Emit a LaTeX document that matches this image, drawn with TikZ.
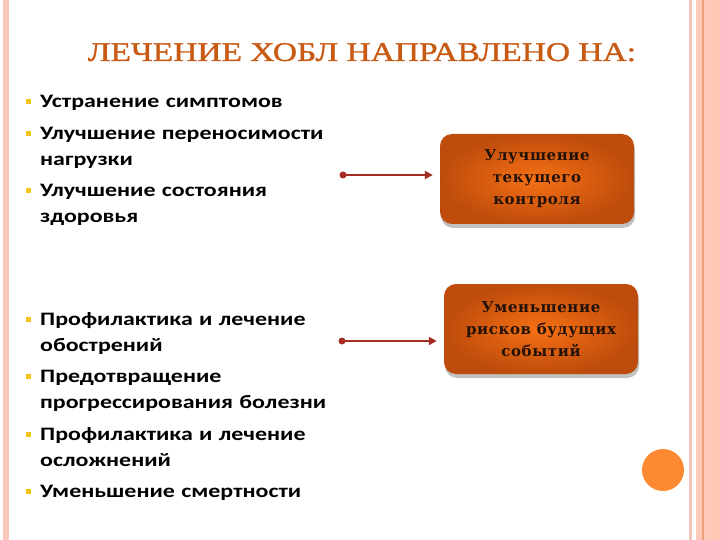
\documentclass[tikz,border=0pt]{standalone}
\usepackage{fontspec}
\setmainfont{Liberation Serif}
\newfontfamily\titlefont[FakeStretch=1.24,FakeBold=1.3]{Liberation Serif}
\newfontfamily\listfont[FakeStretch=1.26]{Carlito}
\newfontfamily\boxfont[LetterSpace=4]{DejaVu Serif}
\usetikzlibrary{arrows.meta,shadows}
\definecolor{titlecol}{RGB}{200,90,20}
\definecolor{bulcol}{RGB}{245,195,20}
\definecolor{arrcol}{RGB}{165,45,35}
\definecolor{boxin}{RGB}{246,112,20}
\definecolor{boxout}{RGB}{190,76,12}
\definecolor{boxtext}{RGB}{35,18,8}
\definecolor{dotcol}{RGB}{253,138,50}
\definecolor{barA}{RGB}{248,200,184}
\definecolor{barB}{RGB}{240,196,184}
\definecolor{barC}{RGB}{253,202,186}
\definecolor{barD}{RGB}{235,160,120}
\definecolor{barE}{RGB}{255,200,180}
\newcommand{\bitem}[1]{\hangindent=14pt\hangafter=1\noindent
  \makebox[14pt][l]{\textcolor{bulcol}{\rule[3.5pt]{5pt}{5pt}}}#1\par}
\begin{document}
\begin{tikzpicture}[x=1pt,y=-1pt,
  goal/.style={rounded corners=12pt,inner color=boxin,outer color=boxout,
    minimum width=194pt,minimum height=90pt,align=center,text=boxtext,
    font=\boxfont\bfseries\fontsize{15}{22}\selectfont,
    drop shadow={shadow xshift=1pt,shadow yshift=-4pt,opacity=.35,fill=black!70}},
  list/.style={anchor=base west,inner sep=0pt,text width=330pt,
    font=\listfont\bfseries\fontsize{19}{26}\selectfont},
  link/.style={arrcol,line width=2.4pt,-{Triangle[length=8pt,width=8pt]},shorten >=7pt}]
\useasboundingbox (0,0) rectangle (720,540);
\fill[barA] (3,0) rectangle (9,540);
\fill[barB] (689,0) rectangle (692,540);
\fill[barC] (696,0) rectangle (702,540);
\fill[barD] (702,0) rectangle (703.5,540);
\fill[barC] (703.5,0) rectangle (709,540);
\fill[barE] (709,0) rectangle (720,540);
\node[anchor=base,inner sep=0pt,text=titlecol,font=\titlefont\fontsize{27}{30}\selectfont] (title) at (362,61)
  {ЛЕЧЕНИЕ ХОБЛ НАПРАВЛЕНО НА:};
\node[list] (now) at (26,108) {\parskip=5.5pt
  \bitem{Устранение симптомов}
  \bitem{Улучшение переносимости\newline нагрузки}
  \bitem{Улучшение состояния\newline здоровья}};
\node[list] (future) at (26,325) {\parskip=5.5pt
  \bitem{Профилактика и лечение\newline обострений}
  \bitem{Предотвращение\newline прогрессирования болезни}
  \bitem{Профилактика и лечение\newline осложнений}
  \bitem{Уменьшение смертности}};
\node[goal] (control) at (537,179) {Улучшение\\текущего\\контроля};
\node[goal] (risk) at (541,329) {Уменьшение\\рисков будущих\\событий};
\coordinate (s1) at (343,175);
\coordinate (s2) at (342,341);
\fill[arrcol] (s1) circle (3.5pt);
\fill[arrcol] (s2) circle (3.5pt);
\draw[link] (s1) -- (s1 -| control.west);
\draw[link] (s2) -- (s2 -| risk.west);
\fill[dotcol] (663,470) circle (21pt);
\end{tikzpicture}
\end{document}
